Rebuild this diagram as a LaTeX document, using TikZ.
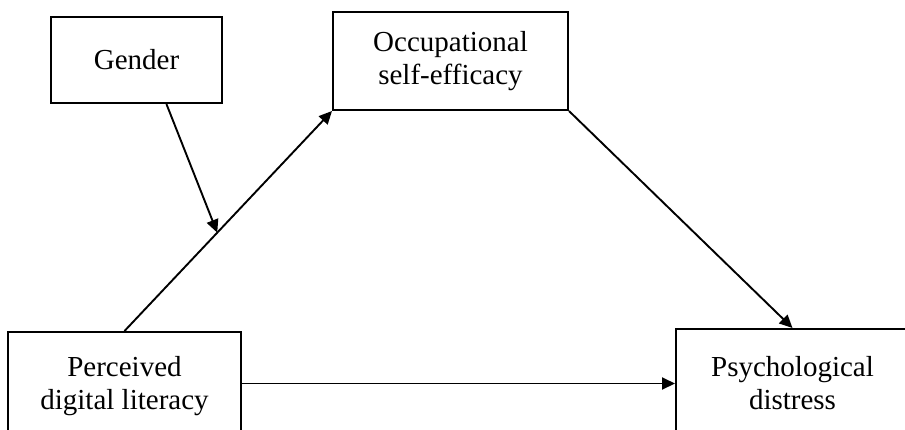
\documentclass[tikz,border=0pt]{standalone}
\usepackage{fontspec}
\setmainfont{Liberation Serif}
\usetikzlibrary{arrows.meta,calc}
\begin{document}
\begin{tikzpicture}[x=1pt,y=-1pt,
  box/.style={draw, line width=2pt, rectangle, inner sep=0pt, align=center,
    font=\fontsize{29}{33}\selectfont},
  conn/.style={line width=1.9pt, -{Triangle[length=13pt,width=12pt]}}]
\useasboundingbox (0,0) rectangle (905,429);
\clip (0,0) rectangle (905,429);
\node[box, minimum width=171pt, minimum height=86pt] (gen) at (136.5,60) {Gender};
\node[box, minimum width=235pt, minimum height=98pt] (occ) at (450.5,61) {Occupational\\self-efficacy};
\node[box, minimum width=233pt, minimum height=109pt] (pdl) at (124.5,386.5) {Perceived\\digital literacy};
\node[box, minimum width=233pt, minimum height=109pt] (psy) at (792.5,383.5) {Psychological\\distress};
\coordinate (m) at ($(pdl.north)!0.447!(occ.south west)$);
\draw[conn] (pdl.north) -- (occ.south west);
\draw[conn] ($(gen.south west)!0.673!(gen.south east)$) -- (m);
\draw[conn] (occ.south east) -- (psy.north);
\draw[conn] (pdl.east |- psy.west) -- (psy.west);
\end{tikzpicture}
\end{document}
